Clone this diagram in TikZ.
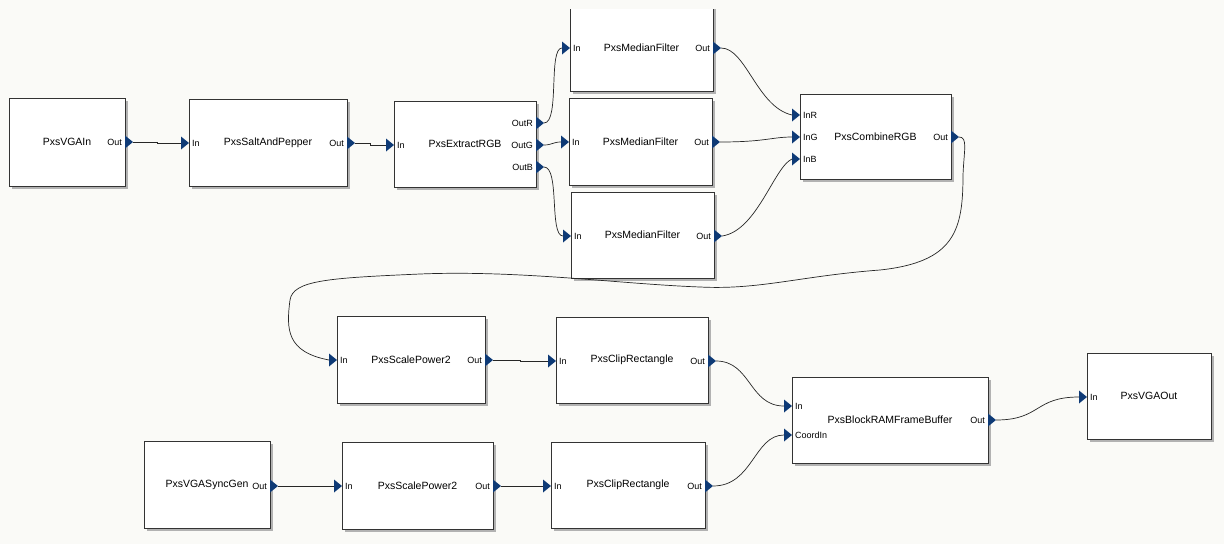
\documentclass[tikz,border=0pt]{standalone}
\usepackage{fontspec}
\setmainfont{Liberation Sans}
\usepackage{tikz}
\usetikzlibrary{calc}
\usetikzlibrary{shadows}

\definecolor{portblue}{RGB}{14,58,118}
\definecolor{canvas}{RGB}{250,250,247}

\tikzset{
  block/.style={draw=black!80, fill=white, line width=0.9pt, inner sep=0pt,
    font=\fontsize{10.5}{12}\selectfont,
    drop shadow={shadow xshift=2.5pt, shadow yshift=-2.5pt, fill=black!30, opacity=1}},
  portlbl/.style={inner sep=0pt, font=\fontsize{9}{11}\selectfont},
  wire/.style={draw=black!85, line width=0.7pt}
}

\begin{document}
\begin{tikzpicture}[x=1pt, y=-1pt]

    \fill[canvas] (0,0) rectangle (1224,544);
    \useasboundingbox (0,0) rectangle (1224,544);

    % blocks
    \node[block, minimum width=116pt, minimum height=88pt] (vgain) at (67,142) {PxsVGAIn};
    \node[block, minimum width=158pt, minimum height=87pt] (salt) at (268,142.5) {PxsSaltAndPepper};
    \node[block, minimum width=142pt, minimum height=86pt] (ext) at (465,144) {PxsExtractRGB};
    \begin{scope}
    \clip (0,9) rectangle (1224,544);
    \node[block, minimum width=143pt, minimum height=86pt] (mf1) at (641.5,48) {PxsMedianFilter};
    \end{scope}
    \node[block, minimum width=143pt, minimum height=87pt] (mf2) at (640.5,141.5) {PxsMedianFilter};
    \node[block, minimum width=143pt, minimum height=86pt] (mf3) at (642.5,235) {PxsMedianFilter};
    \node[block, minimum width=151pt, minimum height=85pt] (cmb) at (875.5,136.5) {PxsCombineRGB};

    \node[block, minimum width=148pt, minimum height=87pt] (sc1) at (411,359.5) {PxsScalePower2};
    \node[block, minimum width=152pt, minimum height=86pt] (clip1) at (632,360) {PxsClipRectangle};
    \node[block, minimum width=196pt, minimum height=86pt] (brf) at (890,420) {PxsBlockRAMFrameBuffer};
    \node[block, minimum width=124pt, minimum height=86pt] (vout) at (1149,396) {PxsVGAOut};

    \node[block, minimum width=126pt, minimum height=87pt] (sync) at (207,484.5) {PxsVGASyncGen};
    \node[block, minimum width=151pt, minimum height=87pt] (sc2) at (417.5,485.5) {PxsScalePower2};
    \node[block, minimum width=154pt, minimum height=86pt] (clip2) at (628,485) {PxsClipRectangle};

    % output ports: name/x of box edge/y/label
    \foreach \nm/\x/\y/\t in {vgain-out/125/142/Out, salt-out/347/143/Out,
        ext-outr/536/123/OutR, ext-outg/536/145/OutG, ext-outb/536/167/OutB,
        mf1-out/713/48/Out, mf2-out/712/142/Out, mf3-out/714/236/Out,
        cmb-out/951/137/Out, sc1-out/485/360/Out, clip1-out/708/361/Out,
        brf-out/988/420/Out, sync-out/270/486/Out, sc2-out/493/486/Out,
        clip2-out/705/486/Out}
    {
        \fill[portblue] (\x,\y-6.5) -- (\x+8,\y) -- (\x,\y+6.5) -- cycle;
        \coordinate (\nm) at (\x+8,\y);
        \node[portlbl, anchor=east] (\nm-lbl) at (\x-3,\y) {\t};
    }

    % input ports: name/x of box edge/y/label
    \foreach \nm/\x/\y/\t in {salt-in/189/143/In, ext-in/394/145/In,
        mf1-in/570/48/In, mf2-in/569/142/In, mf3-in/571/236/In,
        cmb-inr/800/115/InR, cmb-ing/800/137/InG, cmb-inb/800/159/InB,
        sc1-in/337/360/In, clip1-in/556/361/In,
        brf-in/792/406/In, brf-coord/792/435/CoordIn,
        vout-in/1087/397/In, sc2-in/342/486/In, clip2-in/551/486/In}
    {
        \fill[portblue] (\x-8,\y-6.5) -- (\x,\y) -- (\x-8,\y+6.5) -- cycle;
        \coordinate (\nm) at (\x-8,\y);
        \node[portlbl, anchor=west] (\nm-lbl) at (\x+3,\y) {\t};
    }

    % connections
    \draw[wire] (vgain-out) -| ($(vgain-out)!.5!(salt-in)$) |- (salt-in);
    \draw[wire] (salt-out) -| ($(salt-out)!.5!(ext-in)$) |- (ext-in);
    \draw[wire] (ext-outr) .. controls +(16,0) and +(-14,0) .. (mf1-in);
    \draw[wire] (ext-outg) .. controls +(8,0) and +(-8,0) .. (mf2-in);
    \draw[wire] (ext-outb) .. controls +(16,0) and +(-14,0) .. (mf3-in);
    \draw[wire] (mf1-out) .. controls +(25,0) and +(-35,-8) .. (cmb-inr);
    \draw[wire] (mf2-out) .. controls +(45,0) and +(-20,0) .. (cmb-ing);
    \draw[wire] (mf3-out) .. controls +(35,-5) and +(-18,8) .. (cmb-inb);

    \draw[wire] (cmb-out) .. controls (968,137) and (964,150) .. (963,175)
        .. controls (963,230) and (955,262) .. (880,270)
        .. controls (800,276) and (760,290) .. (700,287)
        .. controls (620,284) and (520,270) .. (420,274)
        .. controls (330,278) and (293,280) .. (290,300)
        .. controls (286,330) and (287,352) .. (sc1-in);

    \draw[wire] (sc1-out) -| ($(sc1-out)!.5!(clip1-in)$) |- (clip1-in);
    \draw[wire] (clip1-out) .. controls +(35,0) and +(-35,0) .. (brf-in);
    \draw[wire] (clip2-out) .. controls +(40,0) and +(-30,0) .. (brf-coord);
    \draw[wire] (brf-out) .. controls +(45,0) and +(-45,0) .. (vout-in);
    \draw[wire] (sync-out) -- (sc2-in);
    \draw[wire] (sc2-out) -- (clip2-in);

\end{tikzpicture}
\end{document}
